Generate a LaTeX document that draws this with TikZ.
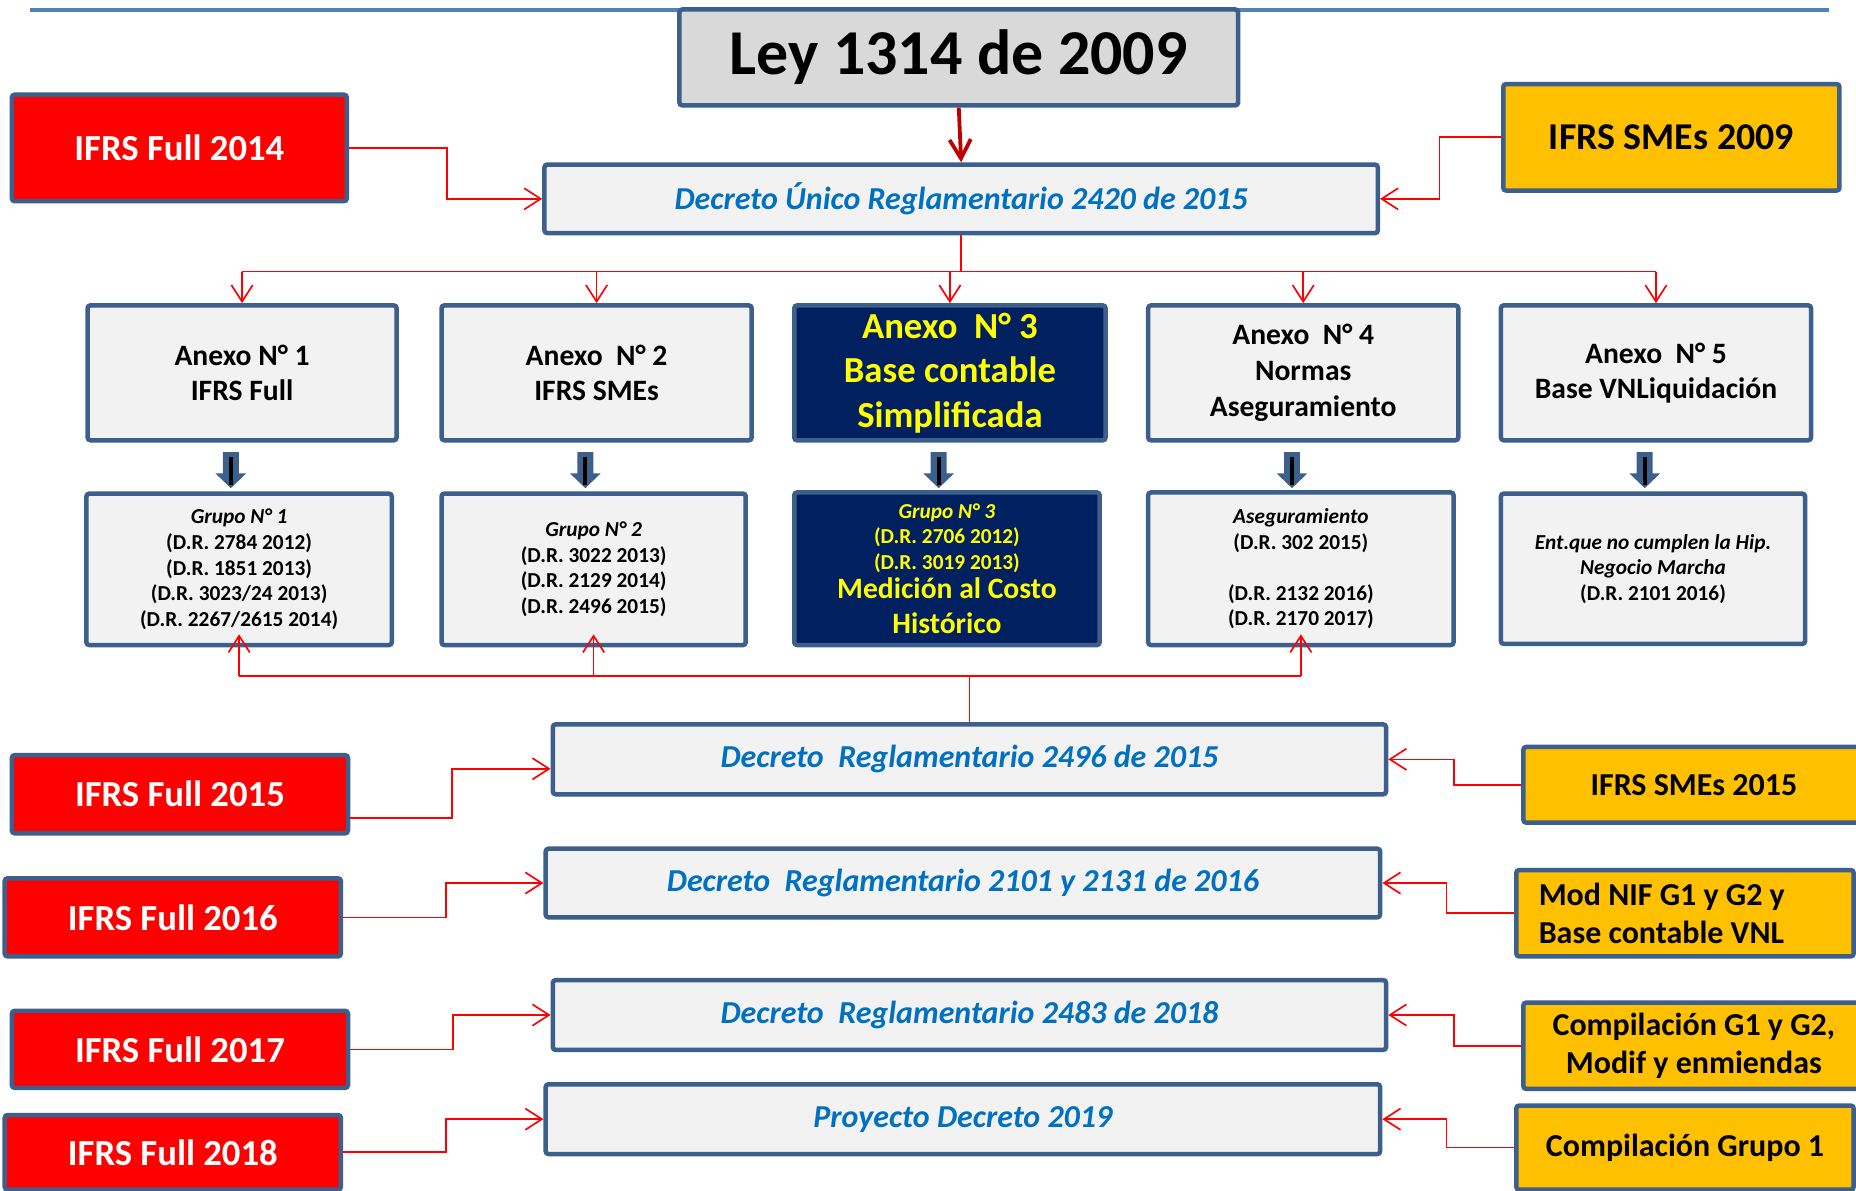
\documentclass[tikz,border=0pt]{standalone}
\usepackage{fontspec}
\setmainfont{Carlito}
\usetikzlibrary{arrows.meta,calc}
\definecolor{bordc}{HTML}{3C5F8C}
\definecolor{boxgrey}{HTML}{F2F2F2}
\definecolor{leygrey}{HTML}{D9D9D9}
\definecolor{ifrsred}{HTML}{FF0000}
\definecolor{smeyel}{HTML}{FFC000}
\definecolor{navy}{HTML}{002060}
\definecolor{yeltext}{HTML}{FFFF00}
\definecolor{dectext}{HTML}{0070C0}
\definecolor{toplinec}{HTML}{4F81BD}
\definecolor{leyarrow}{HTML}{C00000}
\definecolor{connred}{HTML}{FF0000}
\tikzset{
  box/.style={draw=bordc,line width=1.9pt,rounded corners=1.2pt,inner sep=0pt,align=center},
  grey/.style={box,fill=boxgrey},
  leybox/.style={box,fill=leygrey,font=\fontsize{27}{32}\selectfont\bfseries},
  decbox/.style={grey,text=dectext,font=\fontsize{13.5}{16}\selectfont\bfseries\itshape},
  redbox/.style={box,fill=ifrsred,text=white,font=\fontsize{15.5}{18}\selectfont\bfseries},
  yelbox/.style={box,fill=smeyel,text=black,font=\fontsize{13.5}{16}\selectfont\bfseries},
  annex/.style={grey,font=\fontsize{12.5}{15}\selectfont\bfseries},
  annexthree/.style={grey,font=\fontsize{12.5}{15.2}\selectfont\bfseries},
  navyannex/.style={box,fill=navy,text=yeltext,font=\fontsize{15.5}{18.8}\selectfont\bfseries},
  grp/.style={grey,font=\fontsize{9}{10.8}\selectfont\bfseries},
  navygrp/.style={box,fill=navy,text=yeltext,font=\fontsize{9}{10.8}\selectfont\bfseries},
  conn/.style={draw=connred,line width=0.7pt,-{Straight Barb[length=7pt,width=9pt]}},
  redline/.style={draw=connred,line width=0.7pt},
  leyconn/.style={draw=leyarrow,line width=1.6pt,-{Straight Barb[length=8pt,width=9pt]}},
  barrow/.pic={
    \fill[bordc] (-6.75,0) -- (6.75,0) -- (6.75,18) -- (13,18) -- (0,30.5) -- (-13,18) -- (-6.75,18) -- cycle;
    \draw[black,line width=1.7pt] (0,4) -- (0,28);
  }
}
% box from corner coordinates (picture units: 1 unit = 0.5pt)
\newcommand\bx[7]{%
  \pgfmathsetmacro\bxw{(#5-#3)*0.5}%
  \pgfmathsetmacro\bxh{(#6-#4)*0.5}%
  \pgfmathsetmacro\bxcx{(#3+#5)/2}%
  \pgfmathsetmacro\bxcy{(#4+#6)/2}%
  \node[#1,minimum width=\bxw pt,minimum height=\bxh pt] (#2) at (\bxcx,\bxcy) {#7};%
}
\begin{document}
\begin{tikzpicture}[x=0.5pt,y=-0.5pt]
\useasboundingbox (0,0) rectangle (1568,1006);
% top rule
\draw[toplinec,line width=1.4pt] (25,8.4) -- (1545,8.4);

% top part
\bx{leybox}{ley}{574}{8}{1046}{89}{Ley 1314 de 2009}
\bx{decbox}{dur}{460}{139}{1164}{197}{Decreto Único Reglamentario 2420 de 2015}
\bx{redbox}{f14}{10}{80}{293}{170}{IFRS Full 2014}
\bx{yelbox,font=\fontsize{16}{19}\selectfont\bfseries}{s09}{1270}{71}{1554}{161}{IFRS SMEs 2009}

\draw[leyconn] (ley.south) -- (dur.north);
\draw[conn] (f14.east) -- ++(83,0) |- (dur.west);
\draw[conn] (s09.west) -- ++(-52,0) |- (dur.east);

% annexes
\bx{annex}{a1}{74}{258}{335}{372}{Anexo N° 1\\IFRS Full}
\bx{annex}{a2}{373}{258}{635}{372}{Anexo\ \ N° 2\\IFRS SMEs}
\bx{navyannex}{a3}{671}{258}{934}{372}{Anexo\ \ N° 3\\Base contable\\Simplificada}
\bx{annexthree}{a4}{970}{258}{1232}{372}{Anexo\ \ N° 4\\Normas\\Aseguramiento}
\bx{annex}{a5}{1268}{258}{1530}{372}{Anexo\ \ N° 5\\Base VNLiquidación}

\coordinate (bus) at ($(dur.south)+(0,30.5)$);
\draw[redline] (dur.south) -- (bus);
\draw[redline] (bus -| a1.north) -- (bus -| a5.north);
\foreach \a in {a1,a2,a3,a4,a5} {
  \draw[conn] (bus -| \a.north) -- (\a.north);
}

% groups
\bx{grp}{g1}{73}{417}{331}{545}{\textit{Grupo N° 1}\\(D.R. 2784 2012)\\(D.R. 1851 2013)\\(D.R. 3023/24 2013)\\(D.R. 2267/2615 2014)}
\bx{grp}{g2}{373}{417}{630}{545}{\textit{Grupo N° 2}\\(D.R. 3022 2013)\\(D.R. 2129 2014)\\(D.R. 2496 2015)}
\bx{navygrp}{g3}{671}{416}{929}{545}{\textit{Grupo N° 3}\\(D.R. 2706 2012)\\(D.R. 3019 2013)\\[1.5pt]{\fontsize{12.5}{15}\selectfont Medición al Costo}\\[4pt]{\fontsize{12.5}{15}\selectfont Histórico}}
\bx{grp}{g4}{970}{416}{1228}{545}{\textit{Aseguramiento}\\(D.R. 302 2015)\\[10.8pt](D.R. 2132 2016)\\(D.R. 2170 2017)}
\bx{grp}{g5}{1268}{417}{1525}{544}{\textit{Ent.que no cumplen la Hip.}\\\textit{Negocio Marcha}\\(D.R. 2101 2016)}

\foreach \a in {a1,a2,a3,a4,a5} {
  \pic at ($(\a.south)+(-9.5,8)$) {barrow};
}

% lower decrees
\bx{decbox}{d15}{467}{612}{1171}{671}{Decreto\ \ Reglamentario 2496 de 2015}
\bx{decbox}{d16}{461}{717}{1166}{775}{Decreto\ \ Reglamentario 2101 y 2131 de 2016}
\bx{decbox}{d18}{467}{828}{1171}{887}{Decreto\ \ Reglamentario 2483 de 2018}
\bx{decbox}{pd}{461}{916}{1166}{975}{Proyecto Decreto 2019}

\coordinate (bus2) at ($(d15.north)+(0,-39)$);
\draw[redline] (d15.north) -- (bus2);
\draw[redline] (bus2 -| g1.south) -- (bus2 -| g4.south);
\foreach \g in {g1,g2,g4} {
  \draw[conn] (bus2 -| \g.south) -- ($(\g.south)+(0,-11)$);
}

\bx{redbox}{f15}{10}{638}{294}{704}{IFRS Full 2015}
\bx{redbox}{f16}{4}{742}{288}{808}{IFRS Full 2016}
\bx{redbox}{f17}{10}{854}{294}{919}{IFRS Full 2017}
\bx{redbox}{f18}{4}{942}{288}{1005}{IFRS Full 2018}

\bx{yelbox}{s15}{1287}{631}{1575}{695}{IFRS SMEs 2015}
\bx{yelbox,align=flush left,text width=123.5pt}{mod}{1281}{735}{1566}{808}{Mod NIF G1 y G2 y\\Base contable VNL}
\bx{yelbox}{cg}{1287}{847}{1575}{920}{Compilación G1 y G2,\\Modif y enmiendas}
\bx{yelbox}{cgr}{1281}{934}{1566}{1005}{Compilación Grupo 1}

\draw[conn] ($(f15.east)+(0,20)$) -- ++(86,0) |- ($(d15.west)+(0,8)$);
\draw[conn] (f16.east) -- ++(87,0) |- (d16.west);
\draw[conn] (f17.east) -- ++(87,0) |- (d18.west);
\draw[conn] (f18.east) -- ++(87,0) |- (pd.west);

\draw[conn] (s15.west) -- ++(-57,0) |- (d15.east);
\draw[conn] (mod.west) -- ++(-57,0) |- (d16.east);
\draw[conn] (cg.west) -- ++(-57,0) |- (d18.east);
\draw[conn] (cgr.west) -- ++(-57,0) |- (pd.east);
\end{tikzpicture}
\end{document}
